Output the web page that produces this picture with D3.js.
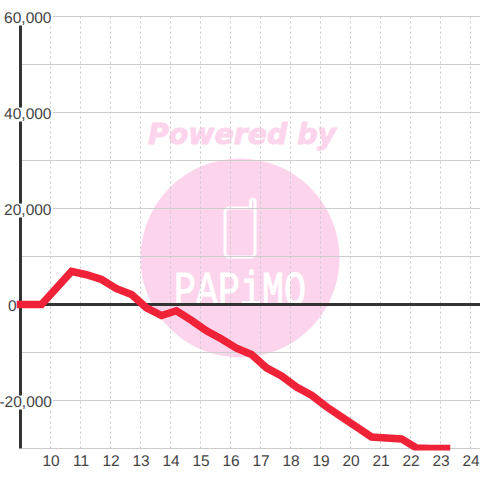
<!DOCTYPE html>
<html>
<head>
<meta charset="utf-8">
<script src="https://cdn.jsdelivr.net/npm/d3@7"></script>
<style>
html,body{margin:0;padding:0;background:#fff}
svg{display:block}
</style>
</head>
<body>
<svg id="chart" width="480" height="480"></svg>
<script>
const hours = [9.0,9.7,10.7,11.2,11.7,12.2,12.7,13.2,13.7,14.2,14.7,15.2,15.7,16.2,16.7,17.2,17.7,18.2,18.7,19.2,19.7,20.2,20.7,21.2,21.7,22.2,22.7,23.2];
const profit = [0,0,6900,6200,5200,3300,2100,-700,-2300,-1300,-3300,-5500,-7200,-9100,-10400,-13200,-14900,-17200,-18900,-21300,-23400,-25500,-27600,-27800,-28000,-29900,-30000,-30000];
const xTicks = [10,11,12,13,14,15,16,17,18,19,20,21,22,23,24];
const yMajor = [60000,40000,20000,0,-20000];
const yGrid = [60000,50000,40000,30000,20000,10000,0,-10000,-20000,-30000];
const watermarkTop = "Powered by";
const watermarkBottom = "PAPiMO";

const svg = d3.select("#chart");
const x = d3.scaleLinear().domain([10,24]).range([50.5,470.5]);
const y = d3.scaleLinear().domain([-30000,60000]).range([448.5,16.5]);
const font = "'Liberation Sans',Arial,sans-serif";
const pink = "#fcd5ec";

// watermark
const wm = svg.append("g");
wm.append("circle").attr("cx",240).attr("cy",258).attr("r",99.5).attr("fill",pink);
wm.append("text").text(watermarkTop).attr("x",242).attr("y",144)
  .attr("text-anchor","middle").attr("font-family","'DejaVu Sans'")
  .attr("font-weight","bold").attr("font-style","italic").attr("font-size",28.4)
  .attr("fill",pink).attr("stroke",pink).attr("stroke-width",1);
wm.append("rect").attr("x",225).attr("y",208).attr("width",30).attr("height",49).attr("rx",4)
  .attr("fill","none").attr("stroke","#fff").attr("stroke-width",3);
wm.append("path").attr("d","M250.5 208V201.5a2.25 2.25 0 0 1 4.5 0V212").attr("fill",pink)
  .attr("stroke","#fff").attr("stroke-width",3);
wm.append("text").text(watermarkBottom).attr("x",174).attr("y",305)
  .attr("textLength",132).attr("lengthAdjust","spacingAndGlyphs")
  .attr("font-family","'Liberation Mono'").attr("font-size",48).attr("fill","#fff")
  .attr("stroke","#fff").attr("stroke-width",1);

// grid
svg.append("g").selectAll("line").data(yGrid).join("line")
  .attr("x1",22).attr("x2",480).attr("y1",d=>y(d)).attr("y2",d=>y(d))
  .attr("stroke","#ccc").attr("stroke-width",1);
svg.append("g").selectAll("line").data(xTicks).join("line")
  .attr("x1",d=>x(d)).attr("x2",d=>x(d)).attr("y1",y(60000)).attr("y2",y(-30000))
  .attr("stroke","#c8c8c8").attr("stroke-width",1).attr("stroke-dasharray","2,3");

// axis bars
svg.append("line").attr("x1",20.5).attr("x2",20.5).attr("y1",y(60000)).attr("y2",y(-30000))
  .attr("stroke","#333").attr("stroke-width",3);
svg.append("line").attr("x1",20).attr("x2",480).attr("y1",y(0)).attr("y2",y(0))
  .attr("stroke","#333").attr("stroke-width",3);

function styleLabel(t){
  t.attr("fill","#444").attr("font-family",font).attr("font-size",15.5)
   .style("text-rendering","geometricPrecision");
}

// y axis labels with white backing; plain hyphen for negatives, as in the reference
const fmt = d3.formatLocale({decimal:".",thousands:",",grouping:[3],currency:["$",""],minus:"-"}).format(",");
const yAxis = svg.append("g").call(d3.axisLeft(y).tickValues(yMajor).tickSize(0).tickPadding(0).tickFormat(fmt));
yAxis.select(".domain").remove();
yAxis.selectAll(".tick").each(function(d){
  const g = d3.select(this);
  const t = g.select("text");
  if(d!==0) g.insert("rect","text").attr("x",2).attr("y",-5.5).attr("width",51).attr("height",14).attr("fill","#fff");
  t.attr("x",d===0?16.5:(d<0?52:51.5)).attr("dy",null).attr("y",5.5).attr("text-anchor","end");
  styleLabel(t);
});

// x axis labels
const xAxis = svg.append("g").attr("transform","translate(0,448)")
  .call(d3.axisBottom(x).tickValues(xTicks).tickSize(0).tickPadding(0).tickFormat(d3.format("d")));
xAxis.select(".domain").remove();
styleLabel(xAxis.selectAll("text").attr("dy",null).attr("y",18));

// series, clipped just under the plot floor
svg.append("clipPath").attr("id","plotClip").append("rect")
  .attr("x",0).attr("y",0).attr("width",480).attr("height",450.6);
const line = d3.line().x((d,i)=>x(hours[i])).y(d=>y(d));
svg.append("path").datum(profit).attr("d",line).attr("fill","none").attr("clip-path","url(#plotClip)")
  .attr("stroke","#f02238").attr("stroke-width",7.5).attr("stroke-linecap","square").attr("stroke-linejoin","miter");
</script>
</body>
</html>
